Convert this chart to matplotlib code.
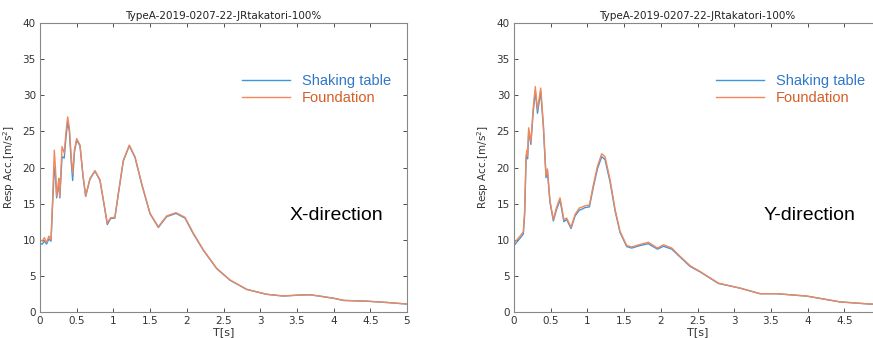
import matplotlib
matplotlib.use("Agg")
import matplotlib.pyplot as plt

# X-direction response spectrum
tx = [0.0, 0.03, 0.06, 0.09, 0.12, 0.15, 0.17, 0.195, 0.21, 0.227, 0.245, 0.257, 0.27,
      0.3, 0.33, 0.355, 0.377, 0.40, 0.425, 0.445, 0.47, 0.5, 0.545, 0.585, 0.622,
      0.681, 0.749, 0.817, 0.872, 0.917, 0.963, 1.02, 1.067, 1.135, 1.217, 1.294,
      1.385, 1.499, 1.612, 1.726, 1.853, 1.975, 2.09, 2.225, 2.407, 2.589, 2.816,
      3.088, 3.315, 3.54, 3.68, 3.81, 4.0, 4.14, 4.45, 4.75, 5.0]
x_found = [10.0, 9.8, 10.3, 9.6, 10.5, 10.0, 15.0, 22.4, 20.0, 16.0, 17.5, 18.5, 16.0,
           22.9, 22.0, 25.0, 27.0, 25.5, 21.5, 19.2, 22.5, 24.0, 23.1, 19.0, 16.05,
           18.5, 19.56, 18.3, 15.0, 12.3, 13.05, 13.1, 16.4, 21.0, 23.1, 21.5,
           17.8, 13.65, 11.8, 13.3, 13.75, 13.1, 10.9, 8.6, 6.05, 4.43, 3.14,
           2.45, 2.21, 2.35, 2.38, 2.2, 1.9, 1.6, 1.5, 1.3, 1.1]
x_table = [9.5, 9.4, 9.8, 9.4, 10.1, 9.8, 14.5, 20.0, 19.0, 15.8, 17.0, 17.8, 15.8,
           21.5, 21.3, 24.3, 26.3, 25.0, 20.8, 18.2, 22.2, 23.8, 23.0, 18.9, 16.0,
           18.4, 19.5, 18.2, 14.9, 12.1, 12.95, 13.0, 16.3, 20.9, 23.0, 21.4,
           17.7, 13.6, 11.7, 13.2, 13.65, 13.0, 10.8, 8.55, 6.0, 4.4, 3.12,
           2.45, 2.21, 2.35, 2.38, 2.2, 1.9, 1.6, 1.5, 1.3, 1.1]

# Y-direction response spectrum
ty = [0.0, 0.04, 0.082, 0.127, 0.145, 0.164, 0.175, 0.185, 0.2, 0.23, 0.26, 0.29, 0.32,
      0.364, 0.4, 0.436, 0.455, 0.49, 0.536, 0.58, 0.627, 0.68, 0.718, 0.777, 0.832,
      0.89, 0.92, 0.968, 1.027, 1.081, 1.136, 1.195, 1.24, 1.309, 1.377, 1.445, 1.536,
      1.604, 1.718, 1.83, 1.954, 2.036, 2.15, 2.263, 2.4, 2.536, 2.785, 3.081, 3.354,
      3.58, 3.99, 4.44, 4.85, 5.0]
y_found = [9.6, 10.0, 10.5, 11.1, 14.0, 21.5, 22.4, 21.6, 25.5, 23.5, 28.0, 31.2, 28.0,
           31.0, 26.0, 18.9, 19.8, 15.4, 12.8, 14.5, 15.8, 12.8, 13.0, 11.75, 13.5,
           14.4, 14.5, 14.7, 14.8, 17.6, 20.15, 21.9, 21.5, 18.3, 14.2, 11.15, 9.2,
           9.0, 9.35, 9.65, 8.85, 9.3, 8.85, 7.7, 6.4, 5.6, 4.0, 3.3, 2.53,
           2.53, 2.2, 1.4, 1.1, 1.05]
y_table = [9.2, 9.7, 10.2, 10.8, 13.5, 21.0, 22.0, 21.2, 25.0, 23.2, 27.5, 30.6, 27.5,
           30.5, 25.6, 18.6, 19.5, 15.2, 12.6, 14.2, 15.5, 12.5, 12.8, 11.55, 13.3,
           14.1, 14.2, 14.45, 14.55, 17.3, 19.8, 21.5, 21.1, 18.0, 14.0, 11.0, 9.05,
           8.85, 9.2, 9.45, 8.7, 9.1, 8.7, 7.6, 6.3, 5.55, 3.95, 3.3, 2.53,
           2.53, 2.2, 1.4, 1.1, 1.05]

title = "TypeA-2019-0207-22-JRtakatori-100%"
labels = ["Shaking table", "Foundation"]
line_colors = ["#3f95dc", "#f0885c"]
text_colors = ["#2f78c8", "#d45f28"]

fig = plt.figure(figsize=(8.73, 3.38), dpi=100)
ax1 = fig.add_axes([40 / 873, 26 / 338, 367 / 873, 289 / 338])
ax2 = fig.add_axes([514 / 873, 26 / 338, 367 / 873, 289 / 338])

panels = [
    (ax1, tx, x_table, x_found, "X-direction", [0, 0.5, 1, 1.5, 2, 2.5, 3, 3.5, 4, 4.5, 5]),
    (ax2, ty, y_table, y_found, "Y-direction", [0, 0.5, 1, 1.5, 2, 2.5, 3, 3.5, 4, 4.5]),
]

for ax, t, tab, fnd, name, xt in panels:
    ax.plot(t, tab, color=line_colors[0], lw=1.0, label=labels[0])
    ax.plot(t, fnd, color=line_colors[1], lw=1.0, label=labels[1])
    ax.set_xlim(0, 5)
    ax.set_ylim(0, 40)
    ax.set_xticks(xt)
    ax.set_xticklabels([f"{v:g}" for v in xt])
    ax.set_yticks(range(0, 41, 5))
    ax.tick_params(direction="in", top=True, right=True, labelsize=7.5,
                   colors="#333333", length=3, width=0.6, pad=3)
    for s in ax.spines.values():
        s.set_color("#888888")
        s.set_linewidth(0.8)
    ax.set_title(title, fontsize=7.5, pad=3, color="#222222")
    ax.set_xlabel("T[s]", fontsize=8, labelpad=1, color="#333333")
    ax.set_ylabel("Resp Acc.[m/s$^2$]", fontsize=7.5, labelpad=4, color="#333333")
    ax.legend(loc="upper left", bbox_to_anchor=(0.514, 0.87), frameon=False,
              handlelength=3.3, handletextpad=0.8, labelspacing=0.25,
              labelcolor=text_colors, prop={"family": "Liberation Sans", "size": 10.5})
    ax.text(0.68, 0.335, name, transform=ax.transAxes, fontsize=14,
            family="Liberation Sans", color="black", ha="left", va="center")

fig.savefig("out.png", dpi=100)
